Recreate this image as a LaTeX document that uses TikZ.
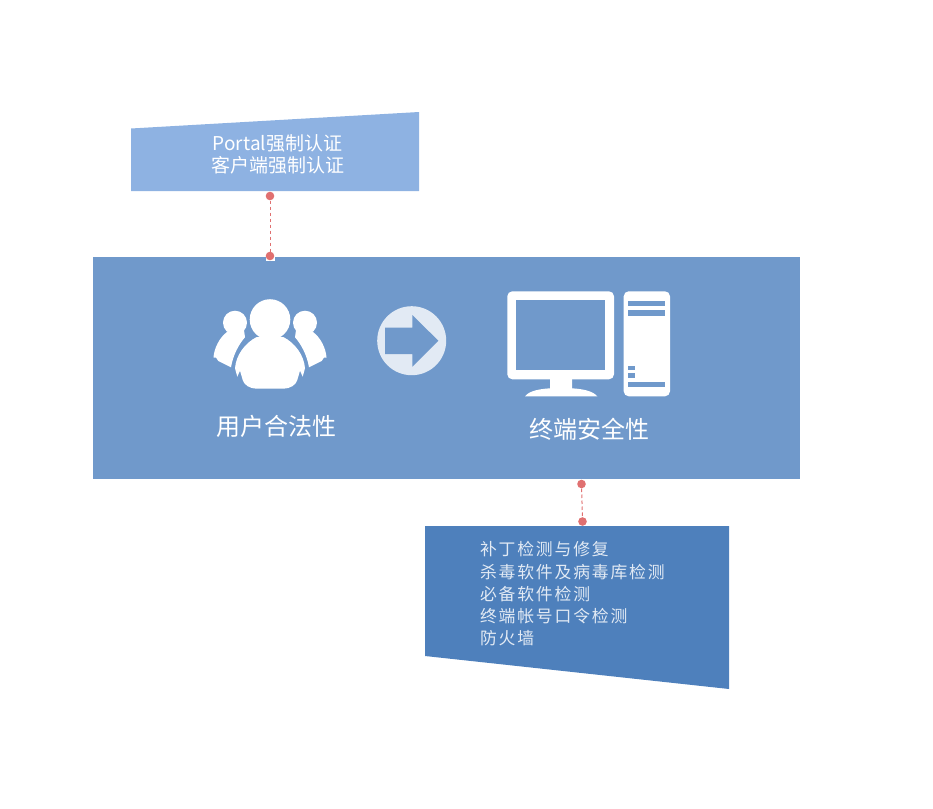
\documentclass[tikz,border=0pt]{standalone}
\usepackage{fontspec}
\setmainfont{Noto Sans CJK SC}
\newfontfamily\widefont[LetterSpace=11]{Noto Sans CJK SC}
\definecolor{mainblue}{HTML}{7099CB}
\definecolor{lightblue}{HTML}{8EB2E2}
\definecolor{darkblue}{HTML}{4E80BC}
\definecolor{paleblue}{HTML}{E2EAF4}
\definecolor{dotred}{HTML}{E07070}
\tikzset{
  dot/.style={circle,fill=dotred,inner sep=0pt,minimum size=8.6pt},
  dashline/.style={dotred,dash pattern=on 3.5pt off 2.5pt,line width=1pt},
  title/.style={text=white,font=\fontsize{24}{28}\selectfont},
  note/.style={text=white,font=\fontsize{19}{22}\selectfont,align=center},
  detail/.style={text=paleblue,align=left,anchor=north west,font=\widefont\fontsize{16.8}{22.3}\selectfont}
}
\newcommand{\bodypath}{(256.7,337) .. controls (245,343) and (236,355) .. (235,368.3) -- (237.3,376.7) -- (240,370.7) -- (242.7,380) .. controls (244,385) and (250,388.7) .. (256.7,388.7) -- (283.3,388.7) .. controls (290,388.7) and (296,385) .. (297.3,380) -- (300,370.7) -- (302.7,376.7) -- (305,368.3) .. controls (304,355) and (295,343) .. (283.3,337) -- cycle}
\begin{document}
\begin{tikzpicture}[x=1pt,y=-1pt]
  \useasboundingbox (0,0) rectangle (933,808);
  % boxes
  \fill[mainblue] (93,257) rectangle (800,479);
  \fill[lightblue] (131,128.5) -- (419,112) -- (419,191) -- (131,191) -- cycle;
  \fill[darkblue] (425,526) -- (729,526) -- (729,689) -- (425,656) -- cycle;
  % texts
  \node[note] (auth) at (277.5,154) {Portal强制认证\\客户端强制认证};
  \node[title] (user) at (276,426) {用户合法性};
  \node[title] (term) at (589,429) {终端安全性};
  \node[detail] (checks) at (476.5,538) {补丁检测与修复\\杀毒软件及病毒库检测\\必备软件检测\\终端帐号口令检测\\防火墙};
  % connectors
  \fill[white] (265.5,252) rectangle (274.5,260.5);
  \node[dot] (topa) at (270,196) {};
  \node[dot] (topb) at (270,256) {};
  \node[dot] (lowa) at (581.5,484) {};
  \node[dot] (lowb) at (582.5,521.5) {};
  \draw[dashline] (topa) -- (topb);
  \draw[dashline] (lowa) -- (lowb);
  % people
  \foreach \sx in {1,-1} {
    \begin{scope}[shift={(270,0)},xscale=\sx]
      \fill[white] (-35,322.7) circle (12);
      \fill[white] (-43,332) .. controls (-50,337) and (-56,348) .. (-56.5,357.5) -- (-54,357.5) -- (-51.7,361) -- (-39,367.3) .. controls (-37,355) and (-31,344) .. (-25,337.3) -- (-26,330) -- cycle;
    \end{scope}
  }
  \draw[mainblue,line width=4pt] \bodypath;
  \draw[mainblue,line width=4pt] (270,319.5) circle (20.3);
  \fill[white] \bodypath;
  \fill[white] (270,319.5) circle (20.3);
  % arrow
  \fill[paleblue] (411.7,340.7) circle (34.5);
  \fill[mainblue] (385,327.7) -- (412.3,327.7) -- (412.3,315) -- (438.3,340.7) -- (412.3,366.7) -- (412.3,354) -- (385,354) -- cycle;
  % monitor
  \fill[white,rounded corners=5pt] (507.3,291.3) rectangle (614,379.3);
  \fill[mainblue] (516,300.3) rectangle (605.3,370.3);
  \fill[white] (550,379) -- (572,379) -- (572,388.3) .. controls (583,389) and (593,391) .. (597.3,396.3) -- (525,396.3) .. controls (529,391) and (539,389) .. (550,388.3) -- cycle;
  % tower
  \fill[white,rounded corners=5pt] (623.7,291.3) rectangle (670,396.3);
  \foreach \ya/\yb in {301.3/305.7,310.3/315.7,381.7/386.7}
    \fill[mainblue] (628.3,\ya) rectangle (665,\yb);
  \foreach \ya/\yb in {365.7/370,373.3/378}
    \fill[mainblue] (628.3,\ya) rectangle (634.7,\yb);
\end{tikzpicture}
\end{document}
